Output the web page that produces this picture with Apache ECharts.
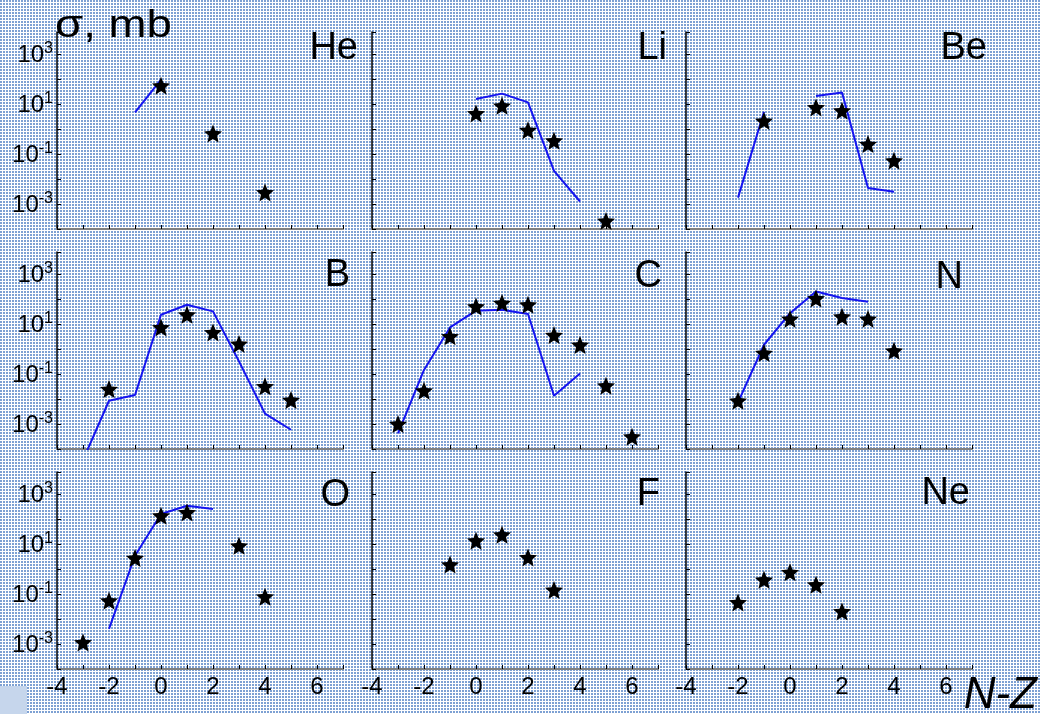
<!DOCTYPE html>
<html>
<head>
<meta charset="utf-8">
<script src="https://cdn.jsdelivr.net/npm/echarts@6/dist/echarts.min.js"></script>
<style>
html,body{margin:0;padding:0;background:#fff;}
#c{width:1041px;height:714px;}
</style>
</head>
<body>
<div id="c"></div>
<script>
// ---- data (N-Z, sigma in mb) ----
const panelNames = ['He','Li','Be','B','C','N','O','F','Ne'];
const xTicks = [-4,-2,0,2,4,6];
const expHe = [[0,54],[2,0.66],[4,0.0029]];
const modHe = [[-1,4.6],[0,94]];
const expLi = [[0,4.2],[1,8.5],[2,0.9],[3,0.34],[5,0.00021]];
const modLi = [[0,16],[1,26],[2,11.6],[3,0.021],[4,0.00126]];
const expBe = [[-1,2.1],[1,7.3],[2,5.4],[3,0.25],[4,0.054]];
const modBe = [[-2,0.0018],[-1,4.9],[0,'-'],[1,21],[2,29],[3,0.0044],[4,0.0031]];
const expB = [[-2,0.025],[0,7.3],[1,23.5],[2,4.6],[3,1.6],[4,0.032],[5,0.0091]];
const modB = [[-3,0.000036],[-2,0.0085],[-1,0.0145],[0,23.5],[1,59],[2,32],[3,0.32],[4,0.0026],[5,0.00059]];
const expC = [[-3,0.001],[-2,0.0215],[-1,3.2],[0,50],[1,69],[2,59],[3,3.6],[4,1.45],[5,0.034],[6,0.00031]];
const modC = [[-3,0.00042],[-2,0.145],[-1,7.3],[0,34],[1,37],[2,25],[3,0.0135],[4,0.105]];
const expN = [[-2,0.0085],[-1,0.69],[0,16],[1,105],[2,19.6],[3,16],[4,0.85]];
const modN = [[-2,0.0073],[-1,1.48],[0,27],[1,200],[2,110],[3,78]];
const expO = [[-3,0.00115],[-2,0.054],[-1,2.75],[0,135],[1,184],[3,8.5],[4,0.078]];
const modO = [[-2,0.004],[-1,3.4],[0,158],[1,340],[2,250]];
const expF = [[-1,1.5],[0,13.5],[1,23.5],[2,2.9],[3,0.145]];
const modF = [];
const expNe = [[-2,0.046],[-1,0.37],[0,0.74],[1,0.235],[2,0.02]];
const modNe = [];

const expAll = [expHe,expLi,expBe,expB,expC,expN,expO,expF,expNe];
const modAll = [modHe,modLi,modBe,modB,modC,modN,modO,modF,modNe];

// ---- layout ----
const colLeft = [57, 372, 686];
const rowTop = [32, 252, 472];
const gW = 286, gH = 197;
const FONT = '"Liberation Sans", Arial, sans-serif';
const STAR = 'path://M50,0 L63.23,31.8 L97.55,34.55 L71.4,56.95 L79.39,90.45 L50,72.5 L20.61,90.45 L28.6,56.95 L2.45,34.55 L36.77,31.8 Z';
const labelPos = [[358,49],[667,49],[987,49],[350,276],[662,277],[963,278],[350,496],[660,495],[970,494]];

// dotted background pattern
const pc = document.createElement('canvas');
pc.width = 3; pc.height = 3;
const pctx = pc.getContext('2d');
pctx.fillStyle = '#ffffff'; pctx.fillRect(0,0,3,3);
pctx.fillStyle = '#7ea1d3'; pctx.fillRect(0,0,2,2);

const grids = [], xAxes = [], yAxes = [], series = [], graphics = [];
for (let i = 0; i < 9; i++) {
  const r = Math.floor(i / 3), c = i % 3;
  grids.push({left: colLeft[c], top: rowTop[r], width: gW, height: gH});
  xAxes.push({
    type: 'value', gridIndex: i, min: -4, max: 7, interval: 1,
    axisLine: {onZero: false, lineStyle: {color: '#808080', width: 2}},
    axisTick: {inside: true, length: 4, lineStyle: {color: '#000', width: 1}},
    splitLine: {show: false},
    axisLabel: {
      show: r === 2, margin: 6, color: '#000', fontSize: 24, fontFamily: FONT,
      showMaxLabel: true, showMinLabel: true,
      formatter: v => xTicks.indexOf(v) >= 0 ? String(v) : ''
    }
  });
  yAxes.push({
    type: 'log', logBase: 10, gridIndex: i, min: 1e-4, max: Math.pow(10, 3.88),
    interval: 1, splitNumber: 8,
    axisLine: {show: true, onZero: false, lineStyle: {color: '#000', width: 1.5}},
    axisTick: {show: true, inside: true, length: 4, lineStyle: {color: '#000', width: 1}},
    splitLine: {show: false},
    minorTick: {show: false},
    axisLabel: {
      show: c === 0, margin: 4, color: '#000', fontFamily: FONT,
      showMaxLabel: true, showMinLabel: true,
      formatter: v => {
        const l = Math.log10(v), e = Math.round(l);
        if (Math.abs(l - e) > 1e-6 || e % 2 === 0) return '';
        return '{b|10}{s|' + e + '}';
      },
      rich: {
        b: {fontSize: 24, fontFamily: FONT, color: '#000', lineHeight: 26, verticalAlign: 'bottom'},
        s: {fontSize: 16, fontFamily: FONT, color: '#000', lineHeight: 26, verticalAlign: 'top'}
      }
    }
  });
  if (modAll[i].length) {
    series.push({
      type: 'line', xAxisIndex: i, yAxisIndex: i, data: modAll[i],
      symbol: 'none', connectNulls: false, clip: true,
      lineStyle: {color: '#1414f0', width: 2}, z: 2, animation: false
    });
  }
  series.push({
    type: 'scatter', xAxisIndex: i, yAxisIndex: i, data: expAll[i],
    symbol: STAR, symbolSize: 18, itemStyle: {color: '#000', opacity: 1}, z: 3, animation: false
  });
  graphics.push({
    type: 'text', x: labelPos[i][0], y: labelPos[i][1],
    style: {text: panelNames[i], fill: '#000', font: '38px ' + FONT, textAlign: 'right', textVerticalAlign: 'middle'}
  });
}
graphics.push({
  type: 'text', x: 55, y: 27, scaleX: 1.2,
  style: {text: 'σ, mb', fill: '#000', font: '38px ' + FONT, textAlign: 'left', textVerticalAlign: 'middle'}
});
graphics.push({
  type: 'text', x: 1037, y: 696,
  style: {text: 'N-Z', fill: '#000', font: 'italic 44px ' + FONT, textAlign: 'right', textVerticalAlign: 'middle'}
});
graphics.push({
  type: 'rect', shape: {x: 0, y: 686, width: 27, height: 28},
  style: {fill: '#c6d6ec'}, z: -1
});

const chart = echarts.init(document.getElementById('c'), null, {renderer: 'canvas'});
chart.setOption({
  backgroundColor: {image: pc, repeat: 'repeat'},
  animation: false,
  grid: grids, xAxis: xAxes, yAxis: yAxes, series: series, graphic: graphics
});
</script>
</body>
</html>
